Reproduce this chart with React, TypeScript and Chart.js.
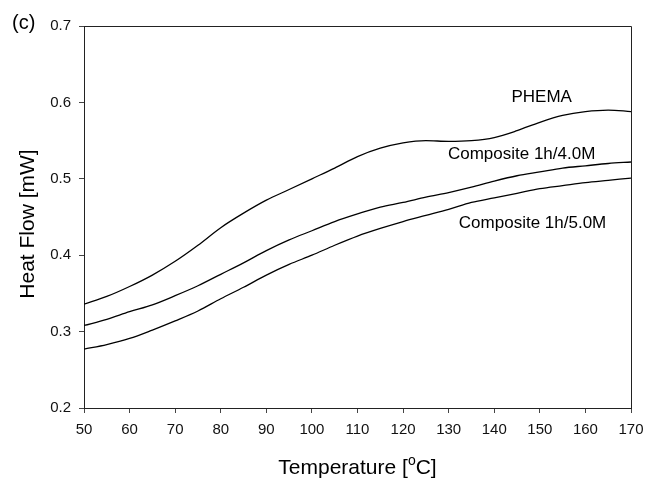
import React, { useEffect, useRef } from "react";
import { Chart, registerables } from "chart.js";

Chart.register(...registerables);

const temps = [50, 55, 60, 65, 70, 75, 80, 85, 90, 95, 100, 105, 110, 115, 120, 125, 130, 135, 140, 145, 150, 155, 160, 165, 170];
const phema = [0.336, 0.346, 0.359, 0.374, 0.392, 0.413, 0.436, 0.455, 0.472, 0.486, 0.500, 0.514, 0.529, 0.540, 0.547, 0.550, 0.549, 0.550, 0.554, 0.563, 0.574, 0.583, 0.588, 0.590, 0.588];
const comp40 = [0.308, 0.316, 0.326, 0.335, 0.347, 0.360, 0.375, 0.390, 0.406, 0.420, 0.432, 0.444, 0.454, 0.463, 0.469, 0.476, 0.482, 0.489, 0.497, 0.504, 0.509, 0.514, 0.517, 0.520, 0.522];
const comp50 = [0.277, 0.283, 0.291, 0.302, 0.314, 0.327, 0.343, 0.358, 0.374, 0.388, 0.400, 0.413, 0.425, 0.435, 0.444, 0.452, 0.460, 0.469, 0.475, 0.481, 0.487, 0.491, 0.495, 0.498, 0.501];

const seriesNames = ["PHEMA", "Composite 1h/4.0M", "Composite 1h/5.0M"];
const labelAt = [
  [150.4, 0.607],
  [146.0, 0.532],
  [148.4, 0.442],
];

const FONT = "'Liberation Sans', Arial, sans-serif";

export default function App() {
  const ref = useRef<HTMLCanvasElement | null>(null);

  useEffect(() => {
    if (!ref.current) return;
    const mk = (vals: number[]) => temps.map((t, i) => ({ x: t, y: vals[i] }));
    const series = [phema, comp40, comp50];

    const overlay = {
      id: "overlay",
      afterDraw(chart: any) {
        const ctx = chart.ctx;
        const a = chart.chartArea;
        const xs = chart.scales.x;
        const ys = chart.scales.y;
        ctx.save();
        // frame top and right
        ctx.strokeStyle = "#222";
        ctx.lineWidth = 1;
        ctx.beginPath();
        ctx.moveTo(Math.round(a.left) + 0.5, Math.round(a.top) + 0.5);
        ctx.lineTo(Math.round(a.right) + 0.5, Math.round(a.top) + 0.5);
        ctx.lineTo(Math.round(a.right) + 0.5, Math.round(a.bottom) + 0.5);
        ctx.stroke();

        ctx.fillStyle = "#000";
        // series labels
        ctx.font = `17px ${FONT}`;
        ctx.textAlign = "center";
        ctx.textBaseline = "middle";
        seriesNames.forEach((n, i) => {
          ctx.fillText(n, xs.getPixelForValue(labelAt[i][0]), ys.getPixelForValue(labelAt[i][1]));
        });

        // (c)
        ctx.font = `20px ${FONT}`;
        ctx.textAlign = "left";
        ctx.fillText("(c)", 12, 23);

        // y title
        ctx.font = `21px ${FONT}`;
        ctx.save();
        ctx.translate(28, 224);
        ctx.rotate(-Math.PI / 2);
        ctx.textAlign = "center";
        ctx.fillText("Heat Flow [mW]", 0, 0);
        ctx.restore();

        // x title with superscript
        const p1 = "Temperature [";
        const sup = "o";
        const p2 = "C]";
        ctx.font = `21px ${FONT}`;
        const w1 = ctx.measureText(p1).width;
        const w3 = ctx.measureText(p2).width;
        ctx.font = `14px ${FONT}`;
        const w2 = ctx.measureText(sup).width;
        const total = w1 + w2 + w3;
        const cx = (a.left + a.right) / 2;
        let x0 = cx - total / 2;
        const base = 474;
        ctx.textAlign = "left";
        ctx.textBaseline = "alphabetic";
        ctx.font = `21px ${FONT}`;
        ctx.fillText(p1, x0, base);
        ctx.font = `14px ${FONT}`;
        ctx.fillText(sup, x0 + w1, base - 9);
        ctx.font = `21px ${FONT}`;
        ctx.fillText(p2, x0 + w1 + w2, base);
        ctx.restore();
      },
    };

    const chart = new Chart(ref.current, {
      type: "line",
      data: {
        datasets: series.map((s, i) => ({
          label: seriesNames[i],
          data: mk(s),
          borderColor: "#000",
          borderWidth: 1.3,
          pointRadius: 0,
          fill: false,
          cubicInterpolationMode: "monotone" as const,
        })),
      },
      options: {
        responsive: false,
        animation: false,
        layout: { padding: { top: 26, right: 16, left: 0, bottom: 0 } },
        plugins: { legend: { display: false }, tooltip: { enabled: false } },
        scales: {
          x: {
            type: "linear",
            min: 50,
            max: 170,
            afterFit: (s: any) => { s.height = 70; s.paddingLeft = 0; s.paddingRight = 0; },
            ticks: {
              stepSize: 10,
              color: "#111",
              font: { family: FONT, size: 15 },
              padding: 8,
              maxRotation: 0,
            },
            grid: { drawOnChartArea: false, tickLength: 5, color: "#444" },
            border: { color: "#222", width: 1 },
          },
          y: {
            type: "linear",
            min: 0.2,
            max: 0.7,
            afterFit: (s: any) => { s.width = 84; s.paddingTop = 0; s.paddingBottom = 0; },
            ticks: {
              stepSize: 0.1,
              color: "#111",
              font: { family: FONT, size: 15 },
              padding: 8,
              callback: (v: any) => Number(v).toFixed(1),
            },
            grid: { drawOnChartArea: false, tickLength: 5, color: "#444" },
            border: { color: "#222", width: 1 },
          },
        },
      },
      plugins: [overlay],
    });
    return () => chart.destroy();
  }, []);

  return (
    <div style={{ position: "fixed", left: 0, top: 0, width: 647, height: 478, background: "#fff" }}>
      <canvas ref={ref} width={647} height={478} />
    </div>
  );
}
